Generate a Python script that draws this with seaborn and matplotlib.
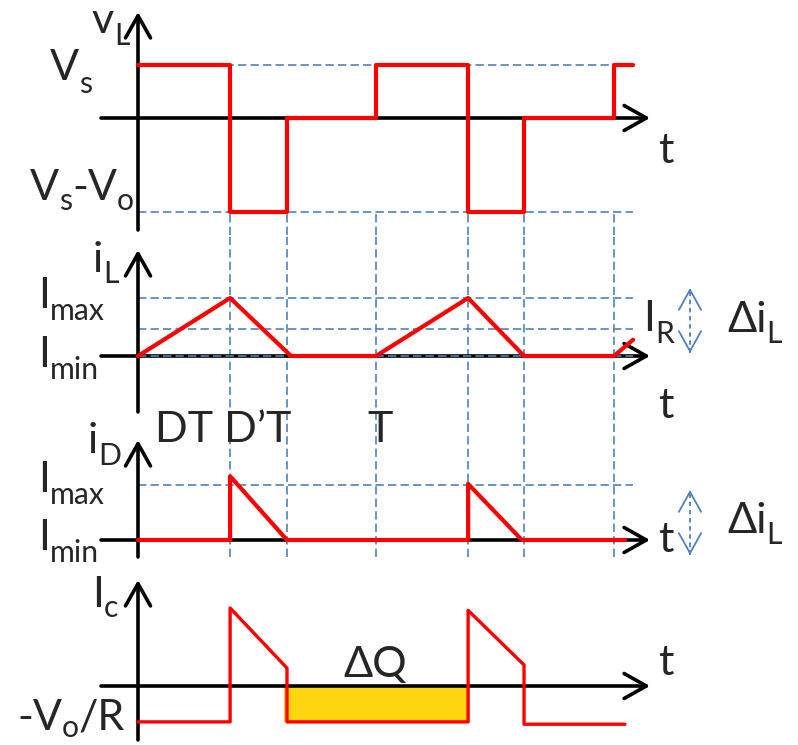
import matplotlib
matplotlib.use("Agg")
import matplotlib.pyplot as plt
import numpy as np
import pandas as pd
import seaborn as sns

# time in units of the switching period T
D = 0.387      # end of switch-on interval (DT)
D2 = 0.626     # end of diode conduction (D'T)
t_grid = [0.387, 0.626, 1.0, 1.387, 1.622, 2.0]

# inductor voltage v_L (Vs = 1)
vL_t = [0, 0.387, 0.387, 0.626, 0.626, 1.0, 1.0, 1.387, 1.387, 1.622, 1.622, 2.0, 2.0, 2.08]
vL = [1, 1, -1.77, -1.77, 0, 0, 1, 1, -1.77, -1.77, 0, 0, 1, 1]
vL_levels = [1, -1.77]

# inductor current i_L (Imax = 1)
iL_t = [0, 0.387, 0.643, 1.0, 1.387, 1.622, 2.0, 2.08]
iL = [0, 1, 0, 0, 1, 0, 0, 0.28]
iL_levels = [1, 0.47, 0]

# diode current i_D
iD_t = [0, 0.387, 0.387, 0.626, 1.387, 1.387, 1.613, 2.046]
iD = [0, 0, 1.16, 0, 0, 1.02, 0, 0]
iD_levels = [1]

# capacitor current I_c
ic_t = [0, 0.387, 0.387, 0.626, 0.626, 1.387, 1.387, 1.622, 1.622, 2.046]
ic = [-0.46, -0.46, 1.0, 0.23, -0.46, -0.46, 0.97, 0.27, -0.49, -0.49]
dq_t = [0.613, 1.387]
dq_low = -0.46

# ---- layout (pixels of the 798x745 picture) ----
W, H = 798, 745
X0, UX = 138, 238          # pixel of t=0, pixels per T
panels = [                 # zero line, px per unit, band top, band bottom
    dict(zero=118, unit=53, top=0, bot=235, ytip=12, ybot=230),
    dict(zero=356, unit=58, top=235, bot=420, ytip=250, ybot=412),
    dict(zero=540, unit=55, top=420, bot=562, ytip=440, ybot=557),
    dict(zero=686, unit=78, top=562, bot=745, ytip=580, ybot=740),
]

sns.set_style("white")
plt.rcParams["font.family"] = ["Lato", "DejaVu Sans"]

fig = plt.figure(figsize=(W / 100, H / 100), dpi=100)
axes = []
for p in panels:
    ax = fig.add_axes([0, 1 - p["bot"] / H, 1, (p["bot"] - p["top"]) / H])
    ax.set_xlim(-X0 / UX, (W - X0) / UX)
    ax.set_ylim((p["zero"] - p["bot"]) / p["unit"], (p["zero"] - p["top"]) / p["unit"])
    ax.axis("off")
    axes.append(ax)

def yv(p, px):
    return (p["zero"] - px) / p["unit"]

blue = "#4f81bd"
red = "#ff0000"
dash = dict(color=blue, lw=1.2, ls=(0, (5, 2.5)))
t_end = 2.08

# axis arrows
for ax, p in zip(axes, panels):
    arr = dict(arrowstyle="->,head_length=0.8,head_width=0.45", lw=2.6, color="black",
               mutation_scale=20, shrinkA=0, shrinkB=0)
    ax.annotate("", xy=((650 - X0) / UX, 0), xytext=((101 - X0) / UX, 0),
                arrowprops=arr, annotation_clip=False, zorder=2)
    ax.annotate("", xy=(0, yv(p, p["ytip"])), xytext=(0, yv(p, p["ybot"])),
                arrowprops=arr, annotation_clip=False, zorder=2)

# dashed guide lines
a1, a2, a3, a4 = axes
for lv in vL_levels:
    a1.hlines(lv, 0, t_end, zorder=1, **dash)
a1.vlines(t_grid, a1.get_ylim()[0], vL_levels[1], zorder=1, **dash)
for lv in iL_levels:
    a2.hlines(lv, 0, t_end, zorder=3 if lv == 0 else 1, **dash)
a2.vlines(t_grid, *a2.get_ylim(), zorder=1, **dash)
for lv in iD_levels:
    a3.hlines(lv, 0, t_end, zorder=1, **dash)
a3.vlines(t_grid, yv(panels[2], 557), a3.get_ylim()[1], zorder=1, **dash)

# charge area
a4.fill_between(dq_t, 0, dq_low, color="#ffd510", lw=0, zorder=1)

# waveforms
waves = [(a1, vL_t, vL, 3.0), (a2, iL_t, iL, 3.0), (a3, iD_t, iD, 3.0), (a4, ic_t, ic, 2.4)]
for ax, tt, vv, lw in waves:
    df = pd.DataFrame({"t": tt, "v": vv})
    sns.lineplot(data=df, x="t", y="v", sort=False, estimator=None, ax=ax,
                 color=red, lw=lw, zorder=4)
    ax.axis("off")
    ax.set_xlim(-X0 / UX, (W - X0) / UX)

# double arrows for the ripple: dotted shaft, open solid heads
head = dict(arrowstyle="->,head_length=0.9,head_width=0.5", lw=1.3, color=blue,
            mutation_scale=16, shrinkA=0, shrinkB=0)
xa = (690 - X0) / UX
for ax, p, (yt, yb) in [(a2, panels[1], (288, 353)), (a3, panels[2], (490, 555))]:
    ax.vlines(xa, yv(p, yb), yv(p, yt), color=blue, lw=1.3, ls=(0, (2.5, 2)))
    ax.annotate("", xy=(xa, yv(p, yt)), xytext=(xa, yv(p, yt + 4)), arrowprops=head,
                annotation_clip=False)
    ax.annotate("", xy=(xa, yv(p, yb)), xytext=(xa, yv(p, yb - 4)), arrowprops=head,
                annotation_clip=False)

# ---- text ----
renderer = fig.canvas.get_renderer()
FS = 31

def rich(x, y, parts, size=FS, drop=12):
    cur = x
    for s, sub in parts:
        fs = size * 0.7 if sub else size
        yy = y + (drop if sub else 0)
        t = fig.text(cur / W, 1 - yy / H, s, fontsize=fs, ha="left", va="baseline")
        bb = t.get_window_extent(renderer)
        cur = bb.x1

rich(92, 33, [("v", 0), ("L", 1)])
rich(50, 80, [("V", 0), ("s", 1)], drop=13)
rich(30, 200, [("V", 0), ("s", 1), ("-V", 0), ("o", 1)], drop=10)
rich(93, 272, [("i", 0), ("L", 1)], drop=11)
rich(38, 308, [("I", 0), ("max", 1)])
rich(38, 367, [("I", 0), ("min", 1)])
rich(155, 442, [("DT D\u2019T", 0)])
rich(367, 442, [("T", 0)])
rich(643, 331, [("I", 0), ("R", 1)])
rich(727, 332, [("\u0394i", 0), ("L", 1)], drop=11)
rich(88, 453, [("i", 0), ("D", 1)])
rich(38, 492, [("I", 0), ("max", 1)])
rich(38, 550, [("I", 0), ("min", 1)])
rich(727, 533, [("\u0394i", 0), ("L", 1)], drop=11)
rich(92, 607, [("I", 0), ("c", 1)], drop=10)
rich(17, 730, [("-V", 0), ("o", 1), ("/R", 0)], drop=7)
rich(343, 677, [("\u0394Q", 0)])
for yb in [163, 418, 552, 675]:
    rich(658, yb, [("t", 0)])

fig.savefig("out.png", dpi=100)
